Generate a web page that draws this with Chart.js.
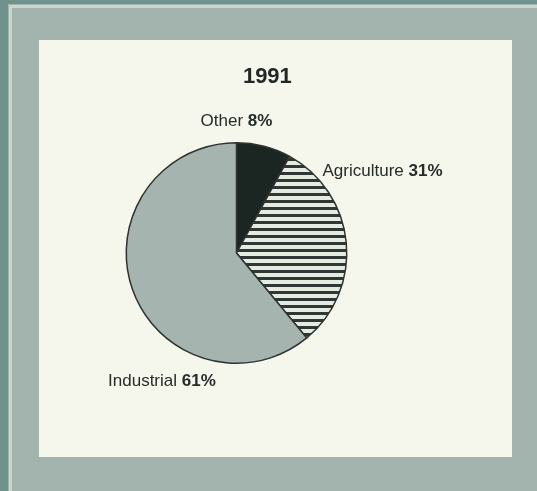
<!DOCTYPE html>
<html lang="en">
<head>
    <meta charset="UTF-8">
    <title>1991</title>
    <script src="https://cdn.jsdelivr.net/npm/chart.js"></script>
    <style>
        body {
            margin: 0;
            padding: 0;
            background-color: #a3b3ad;
        }

        .chart-container {
            position: relative;
            width: 537px;
            height: 491px;
        }
    </style>
</head>
<body>
    <div class="chart-container">
        <canvas id="pieChart" width="537" height="491"></canvas>
    </div>

    <script>
        // Share by sector, 1991
        const chartTitle = '1991';
        const sectors = ['Other', 'Agriculture', 'Industrial'];
        const shares = [8, 31, 61];

        const fontFamily = '"Liberation Sans", Arial, sans-serif';

        // Horizontal hatching for the agriculture slice
        function stripePattern() {
            const tile = document.createElement('canvas');
            tile.width = 8;
            tile.height = 7;
            const t = tile.getContext('2d');
            t.fillStyle = '#e6ebe2';
            t.fillRect(0, 0, 8, 7);
            t.fillStyle = '#2f3835';
            t.fillRect(0, 4, 8, 3);
            return t.createPattern(tile, 'repeat');
        }

        // Frame and cream panel behind the pie
        const framePlugin = {
            id: 'frame',
            beforeDraw(chart) {
                const c = chart.ctx;
                const w = chart.width, h = chart.height;
                c.save();
                c.fillStyle = '#a3b3ad';
                c.fillRect(0, 0, w, h);
                c.fillStyle = '#6f928c';
                c.fillRect(0, 0, 8, h);
                c.fillRect(0, 0, w, 4);
                c.fillStyle = '#c9d5cf';
                c.fillRect(9, 5, 3, h - 5);
                c.fillRect(9, 5, w - 9, 3);
                c.fillStyle = '#f5f7ec';
                c.fillRect(39, 40, 473, 417);
                c.restore();
            }
        };

        // Title plus slice labels: name in regular weight, share in bold
        const labelPlugin = {
            id: 'sliceLabels',
            afterDatasetsDraw(chart) {
                const c = chart.ctx;
                const arcs = chart.getDatasetMeta(0).data;
                const cx = arcs[0].x, cy = arcs[0].y, r = arcs[0].outerRadius;
                c.save();
                c.fillStyle = '#222826';
                c.font = 'bold 22px ' + fontFamily;
                c.textAlign = 'center';
                c.textBaseline = 'middle';
                c.fillText(chartTitle, cx + 0.28 * r, cy - 1.6 * r);

                const spots = [
                    { x: cx, y: cy - r - 13, align: 'center', base: 'bottom' },
                    { x: cx + 0.78 * r, y: cy - 0.745 * r, align: 'left', base: 'middle' },
                    { x: cx - 1.165 * r, y: cy + r + 18, align: 'left', base: 'middle' }
                ];
                c.fillStyle = '#262c2a';
                sectors.forEach((name, i) => {
                    const s = spots[i];
                    const head = name + ' ';
                    const tail = shares[i] + '%';
                    c.font = '17px ' + fontFamily;
                    const wHead = c.measureText(head).width;
                    c.font = 'bold 17px ' + fontFamily;
                    const wTail = c.measureText(tail).width;
                    let x = s.x;
                    if (s.align === 'center') x -= (wHead + wTail) / 2;
                    c.textAlign = 'left';
                    c.textBaseline = s.base;
                    c.font = '17px ' + fontFamily;
                    c.fillText(head, x, s.y);
                    c.font = 'bold 17px ' + fontFamily;
                    c.fillText(tail, x + wHead, s.y);
                });
                c.restore();
            }
        };

        const ctx = document.getElementById('pieChart').getContext('2d');
        const pieChart = new Chart(ctx, {
            type: 'pie',
            data: {
                labels: sectors,
                datasets: [{
                    data: shares,
                    backgroundColor: ['#1b2623', stripePattern(), '#a6b4af'],
                    borderColor: '#2c3331',
                    borderWidth: 1.5
                }]
            },
            options: {
                responsive: false,
                animation: false,
                events: [],
                layout: {
                    padding: { left: 125.5, right: 189.5, top: 142, bottom: 127 }
                },
                plugins: {
                    legend: { display: false },
                    tooltip: { enabled: false },
                    title: { display: false }
                }
            },
            plugins: [framePlugin, labelPlugin]
        });
    </script>
</body>
</html>
